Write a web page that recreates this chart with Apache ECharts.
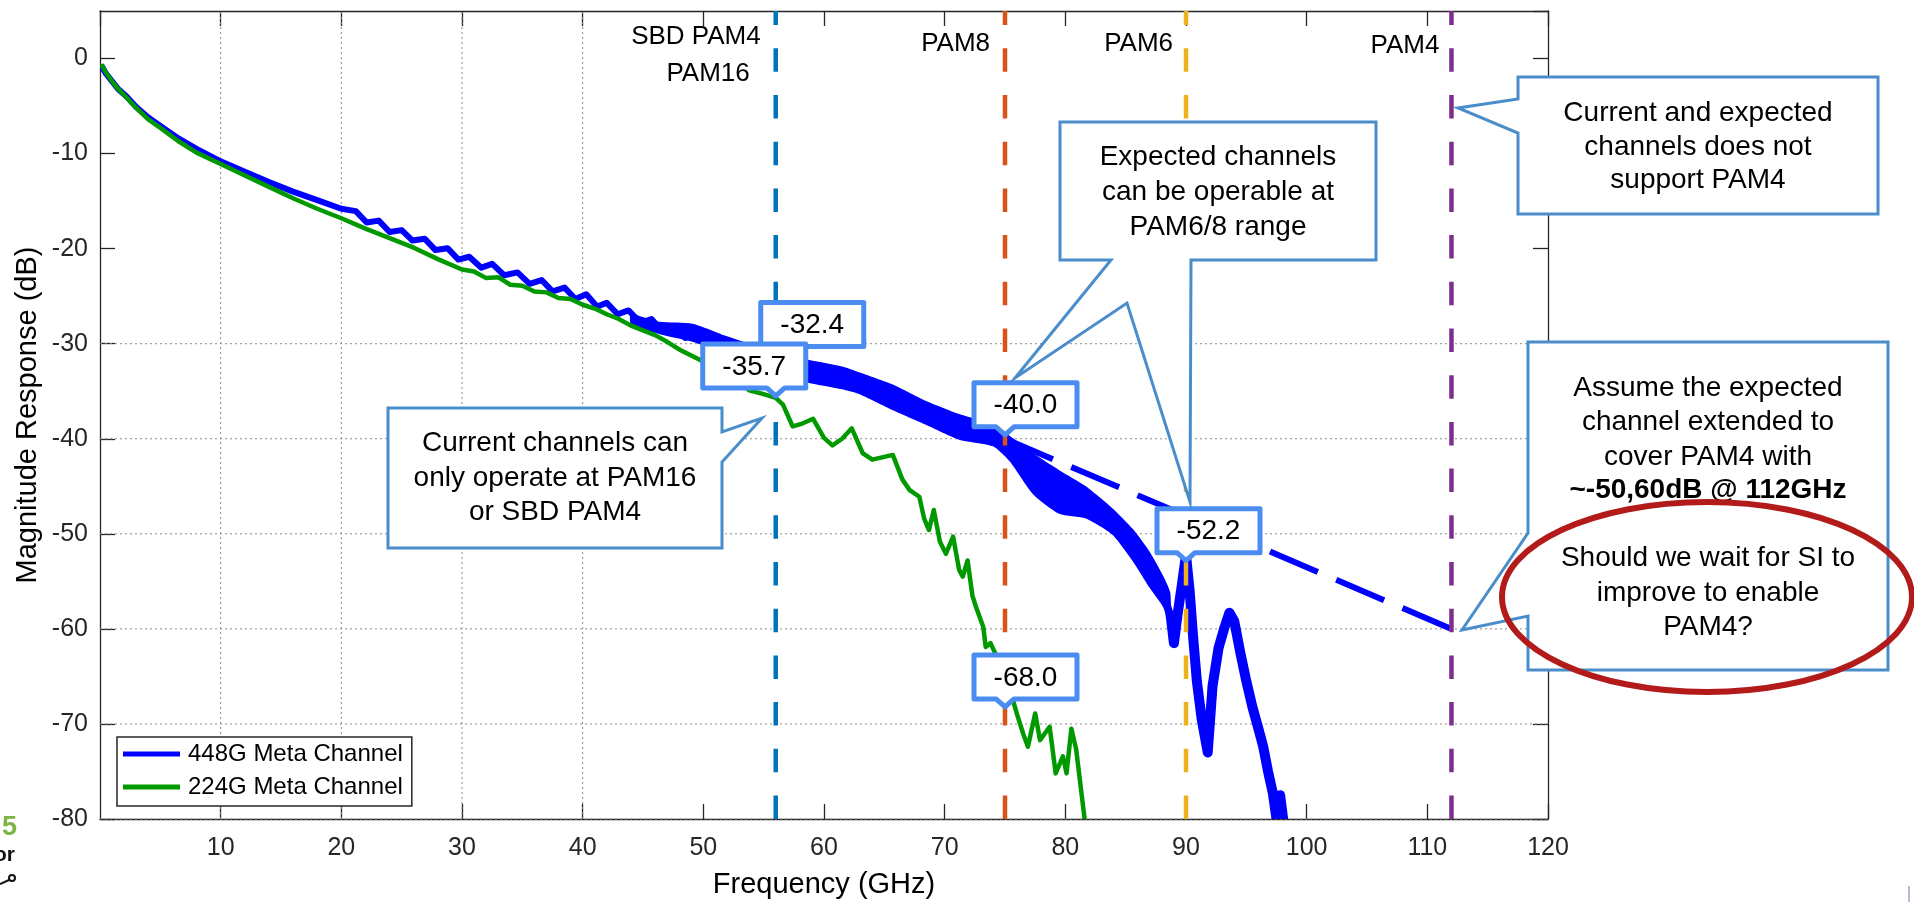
<!DOCTYPE html>
<html>
<head>
<meta charset="utf-8">
<title>Magnitude response</title>
<script src="https://cdn.jsdelivr.net/npm/echarts@6/dist/echarts.min.js"></script>
<style>
  html, body {margin:0; padding:0; background:#fff;}
  #chart {width:1914px; height:902px;}
</style>
</head>
<body>
<div id="chart"></div>
<script>
// ---- values (GHz, dB) ----
var blueFreq = [0.1, 0.5, 1.0, 1.5, 2.2, 3.0, 4.0, 5.0, 6.5, 8.0, 9.8, 12, 14, 16, 18, 20,
  21.2, 22.1, 23.1, 24.0, 25.0, 25.9, 26.9, 27.8, 28.8, 29.7, 30.6, 31.6, 32.5, 33.5, 34.6, 35.6,
  36.6, 37.5, 38.5, 39.4, 40.3, 41.2, 42.0, 42.9, 43.8, 44.8, 45.7, 46.6, 47.5, 48.5, 49.4, 50.3,
  51.2, 52.2, 53.1, 54.0, 55.0, 56.0, 57.0, 58.0, 58.7, 59.5, 60.3, 61.3, 61.9, 63, 64, 65, 66, 67,
  68, 69, 70, 71, 72, 73, 74, 75, 76, 77.3, 78.4, 79.5, 80.5, 81.7, 83.0, 83.9, 85.0, 85.6, 86.3,
  87.0, 87.6, 88.1, 88.7, 89.0, 89.3, 89.7, 90.0, 90.3, 90.6, 90.9, 91.3, 91.8, 92.2, 92.7, 93.2,
  93.6, 94.0, 94.5, 95.0, 95.5, 96.0, 96.4, 96.8, 97.2, 97.5, 97.8, 98.1];
var blueMag = [-0.7, -1.6, -2.4, -3.2, -4.0, -5.1, -6.2, -7.1, -8.4, -9.5, -10.7, -11.9, -13.0, -14.0, -14.9, -15.8,
  -16.05, -17.25, -17.05, -18.25, -18.05, -19.15, -18.95, -20.15, -19.95, -21.15, -20.85, -22.0, -21.6, -22.8, -22.5, -23.7,
  -23.3, -24.5, -24.1, -25.3, -24.8, -26.1, -25.7, -26.9, -26.5, -27.8, -27.4, -28.7, -28.3, -29.4, -28.8, -29.9,
  -29.7, -30.5, -30.3, -31.2, -31.1, -32.4, -32.1, -33.3, -32.6, -33.7, -33.1, -34.0, -33.4, -34.3, -34.7, -35.2, -35.8, -36.3,
  -36.9, -37.5, -38.0, -38.5, -39.0, -39.3, -39.6, -40.0, -41.6, -43.6, -44.5, -45.5, -46.0, -46.6, -47.8, -48.7, -50.2, -51.1, -52.4,
  -53.8, -55.0, -56.0, -58.3, -61.5, -58.5, -55.0, -52.2, -56.0, -61.0, -65.5, -69.5, -73.0, -66.0, -62.0, -59.8,
  -58.3, -59.2, -62.5, -65.5, -68.2, -70.5, -72.4, -75.0, -77.3, -80.0, -77.5, -80.5];

// spread of the noisy 448G trace (upper / lower edge)
var bandFreq = [44.0, 46.4, 49.1, 51.9, 54.0, 56.0, 58.7, 61.5, 62.9, 65.7, 68.4, 71.2, 74.0, 75.4, 77.3,
  79.5, 81.7, 83.9, 85.6, 87.0, 88.1, 88.7];
var bandTop = [-26.9, -27.7, -27.9, -29.2, -30.1, -30.9, -31.7, -32.4, -33.0, -34.3, -36.0, -37.4, -38.5, -39.7, -41.5,
  -43.3, -45.0, -47.3, -49.5, -51.9, -54.4, -56.2];
var bandBottom = [-27.9, -29.0, -29.8, -31.1, -32.1, -33.1, -34.1, -34.8, -35.3, -37.0, -38.5, -40.1, -40.8, -42.4, -45.8,
  -47.9, -48.4, -50.1, -52.9, -55.7, -57.7, -60.0];

var greenFreq = [0.1, 0.5, 1.0, 1.5, 2.2, 3.0, 4.0, 5.0, 6.5, 8.0, 10, 12, 14, 16, 18, 20, 22, 24, 26, 28, 30,
  31, 32, 33, 34, 35, 36, 37, 38, 39, 40, 41, 42, 43, 44, 45, 46, 47, 48, 49.7, 51, 52, 53, 53.8, 55, 56,
  56.6, 57.4, 58.2, 59.1, 60.0, 60.7, 61.5, 62.3, 63.2, 64.0, 65.0, 65.7, 66.5, 67.1, 67.9, 68.3, 68.7,
  69.1, 69.6, 70.1, 70.7, 71.2, 71.5, 71.9, 72.3, 72.6, 73.2, 73.4, 73.8, 74.2, 74.6, 75.0, 75.5, 76.0,
  76.5, 76.9, 77.5, 77.9, 78.3, 78.7, 79.2, 79.8, 80.1, 80.5, 80.9, 81.3, 81.6, 81.8];
var greenMag = [-0.6, -1.5, -2.4, -3.2, -4.1, -5.2, -6.4, -7.3, -8.7, -9.9, -11.1, -12.3, -13.5, -14.7, -15.8, -16.8, -17.9, -18.9, -19.9, -21.1, -22.2,
  -22.4, -23.1, -23.0, -23.8, -23.9, -24.5, -24.6, -25.2, -25.3, -25.9, -26.3, -26.9, -27.4, -28.1, -28.6, -29.1, -29.8, -30.6, -31.7, -32.4, -33.0, -34.0, -34.9, -35.3, -35.7,
  -36.4, -38.7, -38.4, -37.9, -39.9, -40.7, -40.0, -38.9, -41.5, -42.2, -41.9, -41.7, -44.3, -45.4, -46.1, -48.4, -49.6,
  -47.5, -50.8, -52.1, -50.3, -53.8, -54.5, -52.8, -56.5, -57.7, -59.8, -61.9, -61.5, -62.6, -66.0, -68.0, -66.8, -69.0,
  -71.0, -72.4, -68.9, -71.7, -71.0, -70.3, -75.2, -73.4, -75.2, -70.5, -72.7, -76.9, -80.0, -81.0];

var extFreq = [75, 112];          // assumed extension of the 448G channel
var extMag = [-40, -60];

var pamFreq = [56, 75, 90, 112];
var pamNames = [['SBD PAM4', 'PAM16'], ['PAM8'], ['PAM6'], ['PAM4']];

var tipFreq = [56, 56, 75, 90, 75];
var tipMag = [-32.4, -35.7, -40.0, -52.2, -68.0];

var gridFreq = [10, 20, 30, 40];
var gridMag = [-30, -40, -50, -60, -70, -80];

var X_MIN = 0, X_MAX = 120, Y_MIN = -80, Y_MAX = 5;

// ---- styles ----
var FONT = '"Liberation Sans", Arial, Helvetica, sans-serif';
var AX = '#262626';
var BLUE = '#0000FF';
var GREEN = '#009A00';
var TIP_BLUE = '#4A8CF0';
var CALLOUT = '#4A8DCB';
var GRID_STYLE = {stroke: '#8a8a8a', lineWidth: 1, lineDash: [2, 3]};
var pamColor = ['#0072BD', '#D95319', '#EDB120', '#7E2F8E'];
var pamLabelPos = [[[-15, 37], [-26, 74]], [[-15, 44]], [[-13, 44]], [[-12, 46]]]; // px offset from line, y
var tipOffset = [[-15, -64], [-73, -54], [-31, -56], [-29, -46], [-31, -50]];
var spikeStart = 88.5;

function pairs(xs, ys) {
  return xs.map(function (x, i) { return [x, ys[i]]; });
}

var bluePts = pairs(blueFreq, blueMag);
var blueSpike = bluePts.filter(function (p) { return p[0] >= spikeStart; });

// one polyline through all points of a series, placed with the axes' scales
function traceRenderer(points, style) {
  return function (params, api) {
    if (params.dataIndex !== 0) return null;
    return {type: 'polyline', shape: {points: points.map(function (p) { return api.coord(p); })},
      style: style};
  };
}

function renderVGrid(params, api) {
  var a = api.coord([api.value(0), Y_MIN]), b = api.coord([api.value(0), Y_MAX]);
  return {type: 'line', shape: {x1: a[0], y1: a[1], x2: b[0], y2: b[1]}, style: GRID_STYLE};
}
function renderHGrid(params, api) {
  var a = api.coord([X_MIN, api.value(0)]), b = api.coord([X_MAX, api.value(0)]);
  return {type: 'line', shape: {x1: a[0], y1: a[1], x2: b[0], y2: b[1]}, style: GRID_STYLE};
}
function renderPam(params, api) {
  var a = api.coord([api.value(0), Y_MIN]), b = api.coord([api.value(0), Y_MAX]);
  return {type: 'line', shape: {x1: a[0], y1: a[1], x2: b[0], y2: b[1]},
    style: {stroke: pamColor[params.dataIndex], lineWidth: 4.5, lineDash: [23.5, 23.2]}};
}

function renderBand(params, api) {
  if (params.dataIndex !== 0) return null;
  var pts = [];
  for (var i = 0; i < bandFreq.length; i++) pts.push(api.coord([bandFreq[i], bandTop[i]]));
  for (var j = bandFreq.length - 1; j >= 0; j--) pts.push(api.coord([bandFreq[j], bandBottom[j]]));
  return {type: 'polygon', shape: {points: pts, smooth: 0.2}, style: {fill: BLUE}};
}

function renderTip(params, api) {
  var i = params.dataIndex;
  var p = api.coord([api.value(0), api.value(1)]);
  var w = 103, h = 44;
  var x0 = p[0] + tipOffset[i][0], y0 = p[1] + tipOffset[i][1], y1 = y0 + h;
  var pts = [[x0, y0], [x0 + w, y0], [x0 + w, y1], [p[0] + 9, y1], [p[0], y1 + 8], [p[0] - 9, y1], [x0, y1]];
  return {
    type: 'group',
    children: [
      {type: 'polygon', shape: {points: pts},
        style: {fill: '#fff', stroke: TIP_BLUE, lineWidth: 5, lineJoin: 'round'}},
      {type: 'text', style: {text: api.value(1).toFixed(1), x: x0 + w / 2, y: y0 + h / 2 + 1,
        textAlign: 'center', textVerticalAlign: 'middle', font: '28px ' + FONT, fill: '#000'}}
    ]
  };
}

function box(points) {
  return {type: 'polygon', z: 100, shape: {points: points},
    style: {fill: '#fff', stroke: CALLOUT, lineWidth: 3}};
}
function txt(text, x, y, size, bold, extra) {
  var el = {type: 'text', z: 101, x: x, y: y,
    style: {text: text, textAlign: 'center', textVerticalAlign: 'middle',
      font: (bold ? 'bold ' : '') + size + 'px ' + FONT, fill: '#000'}};
  if (extra) for (var k in extra) el[k] = extra[k];
  return el;
}

var graphics = [
  // callout: current channels
  box([[388, 408], [722, 408], [722, 432], [762, 418], [722, 462], [722, 548], [388, 548]]),
  txt('Current channels can', 555, 443, 28), txt('only operate at PAM16', 555, 478, 28), txt('or SBD PAM4', 555, 512, 28),
  // callout: expected channels (two legs)
  box([[1060, 122], [1376, 122], [1376, 260], [1191, 260], [1190, 502], [1127, 303], [1015, 378], [1111, 260], [1060, 260]]),
  txt('Expected channels', 1218, 157, 28), txt('can be operable at', 1218, 192, 28), txt('PAM6/8 range', 1218, 227, 28),
  // callout: PAM4 not supported
  box([[1518, 77], [1878, 77], [1878, 214], [1518, 214], [1518, 133], [1458, 108], [1518, 99]]),
  txt('Current and expected', 1698, 113, 28), txt('channels does not', 1698, 147, 28), txt('support PAM4', 1698, 180, 28),
  // callout: assumption
  box([[1528, 342], [1888, 342], [1888, 670], [1528, 670], [1528, 616], [1462, 630], [1528, 533]]),
  txt('Assume the expected', 1708, 388, 28), txt('channel extended to', 1708, 422, 28), txt('cover PAM4 with', 1708, 457, 28),
  txt('~-50,60dB @ 112GHz', 1708, 490, 28, true),
  txt('Should we wait for SI to', 1708, 558, 28), txt('improve to enable', 1708, 593, 28), txt('PAM4?', 1708, 627, 28),
  {type: 'ellipse', z: 110, shape: {cx: 1707, cy: 597, rx: 205, ry: 95},
    style: {fill: 'transparent', stroke: '#B31B1B', lineWidth: 6}},
  // axis titles
  txt('Frequency (GHz)', 824, 885, 29, false, {z: 5}),
  txt('Magnitude Response (dB)', 28, 415, 29, false, {z: 5, rotation: Math.PI / 2}),
  // slide leftovers at the edges
  {type: 'text', z: 5, x: 17, y: 828, style: {text: '5', textAlign: 'right', textVerticalAlign: 'middle', font: 'bold 27px ' + FONT, fill: '#7DB544'}},
  {type: 'text', z: 5, x: 15, y: 855, style: {text: 'or', textAlign: 'right', textVerticalAlign: 'middle', font: 'bold 21px ' + FONT, fill: '#111'}},
  {type: 'circle', z: 5, shape: {cx: 12, cy: 878, r: 3}, style: {fill: '#fff', stroke: '#111', lineWidth: 2}},
  {type: 'line', z: 5, shape: {x1: 0, y1: 884, x2: 9, y2: 880}, style: {stroke: '#111', lineWidth: 2}},
  {type: 'line', z: 5, shape: {x1: 1909, y1: 886, x2: 1909, y2: 902}, style: {stroke: '#A89CC0', lineWidth: 1.5}}
];

var chart = echarts.init(document.getElementById('chart'), null, {renderer: 'canvas'});

function axisLine() { return {show: true, onZero: false, lineStyle: {color: AX, width: 1.3}}; }
function axisTick() { return {show: true, inside: true, length: 15, lineStyle: {color: AX, width: 1.3}}; }

function trace(name, points, style, z) {
  return {name: name, type: 'custom', renderItem: traceRenderer(points, style), data: points,
    encode: {x: 0, y: 1}, clip: true, silent: true, z: z, itemStyle: {color: style.stroke}};
}

chart.setOption({
  animation: false,
  backgroundColor: '#fff',
  grid: {left: 100, top: 11, width: 1448, height: 808},
  legend: {
    data: [{name: '448G Meta Channel', icon: 'rect'}, {name: '224G Meta Channel', icon: 'rect'}],
    orient: 'vertical', left: 117, top: 737, padding: [5, 9, 7, 6], itemGap: 9,
    itemWidth: 57, itemHeight: 5, selectedMode: false,
    itemStyle: {borderWidth: 0},
    textStyle: {fontSize: 24, color: '#000', fontFamily: FONT, padding: [0, 0, 0, 3]},
    backgroundColor: '#fff', borderColor: AX, borderWidth: 1.5, borderRadius: 0, z: 20
  },
  xAxis: [{
    type: 'value', min: X_MIN, max: X_MAX, interval: 10, position: 'bottom',
    axisLine: axisLine(), axisTick: axisTick(),
    axisLabel: {color: AX, fontSize: 25, fontFamily: FONT, margin: 17, showMinLabel: false},
    splitLine: {show: false}
  }, {
    type: 'value', min: X_MIN, max: X_MAX, interval: 10, position: 'top',
    axisLine: axisLine(), axisTick: axisTick(), axisLabel: {show: false},
    splitLine: {show: false}
  }],
  yAxis: [{
    type: 'value', min: Y_MIN, max: Y_MAX, interval: 10, position: 'left',
    axisLine: axisLine(), axisTick: axisTick(),
    axisLabel: {color: AX, fontSize: 25, fontFamily: FONT, margin: 12, showMaxLabel: false},
    splitLine: {show: false}
  }, {
    type: 'value', min: Y_MIN, max: Y_MAX, interval: 10, position: 'right',
    axisLine: axisLine(), axisTick: axisTick(), axisLabel: {show: false},
    splitLine: {show: false}
  }],
  series: [
    {name: 'vgrid', type: 'custom', renderItem: renderVGrid, silent: true, z: 1,
      data: gridFreq.map(function (f) { return [f]; }), encode: {x: 0}},
    {name: 'hgrid', type: 'custom', renderItem: renderHGrid, silent: true, z: 1,
      data: gridMag.map(function (v) { return [v]; }), encode: {y: 0}},
    trace('extension', pairs(extFreq, extMag),
      {stroke: BLUE, lineWidth: 6, lineDash: [52, 20], fill: null}, 1.5),
    trace('448G Meta Channel', bluePts,
      {stroke: BLUE, lineWidth: 6, lineJoin: 'round', fill: null}, 2),
    {name: '448G Meta Channel', type: 'custom', renderItem: renderBand, z: 2, silent: true,
      data: bandFreq.map(function (f, i) { return [f, bandTop[i], bandBottom[i]]; }),
      encode: {x: 0, y: [1, 2]}, itemStyle: {color: BLUE}},
    trace('448G Meta Channel', blueSpike,
      {stroke: BLUE, lineWidth: 10, lineJoin: 'round', fill: null}, 2),
    trace('224G Meta Channel', pairs(greenFreq, greenMag),
      {stroke: GREEN, lineWidth: 4.5, lineJoin: 'round', fill: null}, 3),
    {name: 'pam', type: 'custom', renderItem: renderPam, silent: true, z: 5,
      data: pamFreq.map(function (f) { return [f]; }), encode: {x: 0}},
    {name: 'tips', type: 'custom', renderItem: renderTip, z: 8, silent: true,
      data: pairs(tipFreq, tipMag), encode: {x: 0, y: 1}}
  ],
  graphic: graphics
});

// PAM captions sit just left of their lines
var pamText = [];
pamFreq.forEach(function (f, i) {
  var x = chart.convertToPixel({xAxisIndex: 0}, f);
  pamNames[i].forEach(function (name, k) {
    var pos = pamLabelPos[i][k];
    pamText.push({type: 'text', z: 6, x: x + pos[0], y: pos[1],
      style: {text: name, textAlign: 'right', textVerticalAlign: 'middle', font: '26px ' + FONT, fill: '#000'}});
  });
});
chart.setOption({graphic: graphics.concat(pamText)});
</script>
</body>
</html>
